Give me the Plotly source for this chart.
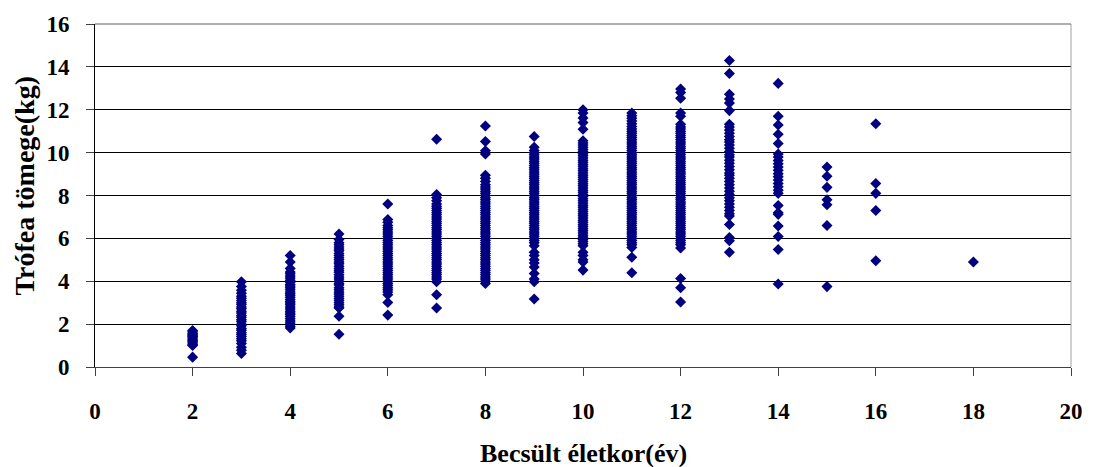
import plotly.graph_objects as go

# Estimated age (years) categories
ages = [2, 3, 4, 5, 6, 7, 8, 9, 10, 11, 12, 13, 14, 15, 16, 18]

# Trophy weights (kg) read per age column
w_age2 = [0.46, 1.0, 1.05, 1.12, 1.18, 1.25, 1.3, 1.36, 1.42, 1.47, 1.53, 1.58, 1.64, 1.7]
w_age3 = [3.98, 3.75, 3.58, 3.44, 3.3, 3.21, 3.1, 3.0, 2.92, 2.8, 2.72, 2.6, 2.52, 2.4, 2.32,
          2.2, 2.12, 2.0, 1.92, 1.8, 1.72, 1.6, 1.52, 1.42, 1.32, 1.22, 1.1, 0.92, 0.78, 0.63]
w_age4 = [5.2, 4.9, 4.6, 4.43, 4.35, 4.25, 4.15, 4.05, 3.95, 3.85, 3.78, 3.7, 3.6, 3.5, 3.42,
          3.35, 3.25, 3.15, 3.05, 2.98, 2.9, 2.8, 2.7, 2.6, 2.52, 2.45, 2.35, 2.25, 2.15, 2.05,
          1.98, 1.9, 1.82]
w_age5 = [6.2, 5.95, 5.8, 5.7, 5.6, 5.5, 5.42, 5.3, 5.2, 5.1, 5.0, 4.9, 4.82, 4.7, 4.6, 4.5,
          4.42, 4.3, 4.2, 4.1, 4.0, 3.9, 3.82, 3.7, 3.6, 3.5, 3.4, 3.3, 3.2, 3.1, 3.0, 2.9, 2.8,
          2.75, 2.37, 1.53]
w_age6 = [7.6, 6.88, 6.75, 6.6, 6.5, 6.4, 6.3, 6.2, 6.1, 6.0, 5.9, 5.8, 5.7, 5.6, 5.5, 5.4,
          5.3, 5.2, 5.1, 5.0, 4.9, 4.8, 4.7, 4.6, 4.5, 4.4, 4.3, 4.2, 4.1, 4.0, 3.9, 3.8, 3.7,
          3.6, 3.5, 3.37, 3.01, 2.42]
w_age7 = [10.62, 8.05, 7.9, 7.75, 7.6, 7.5, 7.4, 7.3, 7.2, 7.1, 7.0, 6.9, 6.8, 6.7, 6.6, 6.5,
          6.4, 6.3, 6.2, 6.1, 6.0, 5.9, 5.8, 5.7, 5.6, 5.5, 5.4, 5.3, 5.2, 5.1, 5.0, 4.9, 4.8,
          4.7, 4.6, 4.5, 4.4, 4.3, 4.2, 4.1, 3.98, 3.37, 2.75]
w_age8 = [11.24, 10.52, 10.09, 9.94, 8.94, 8.8, 8.65, 8.5, 8.4, 8.3, 8.2, 8.1, 8.0, 7.9, 7.8,
          7.7, 7.6, 7.5, 7.4, 7.3, 7.2, 7.1, 7.0, 6.9, 6.8, 6.7, 6.6, 6.5, 6.4, 6.3, 6.2, 6.1,
          6.0, 5.9, 5.8, 5.7, 5.6, 5.5, 5.4, 5.3, 5.2, 5.1, 5.0, 4.9, 4.8, 4.7, 4.6, 4.5, 4.4,
          4.3, 4.2, 4.1, 4.0, 3.9]
w_age9 = [10.75, 10.25, 10.1, 10.0, 9.9, 9.8, 9.7, 9.6, 9.5, 9.4, 9.3, 9.2, 9.1, 9.0, 8.9,
          8.8, 8.7, 8.6, 8.5, 8.4, 8.3, 8.2, 8.1, 8.0, 7.9, 7.8, 7.7, 7.6, 7.5, 7.4, 7.3, 7.2,
          7.1, 7.0, 6.9, 6.8, 6.7, 6.6, 6.5, 6.4, 6.3, 6.2, 6.1, 6.0, 5.9, 5.8, 5.66, 5.35, 5.2,
          5.0, 4.85, 4.66, 4.36, 4.1, 3.98, 3.17]
w_age10 = [12.0, 11.85, 11.62, 11.4, 11.09, 10.55, 10.45, 10.35, 10.25, 10.15, 10.05, 9.95,
           9.85, 9.75, 9.65, 9.55, 9.45, 9.35, 9.25, 9.15, 9.05, 8.95, 8.85, 8.75, 8.65, 8.55,
           8.45, 8.35, 8.25, 8.15, 8.05, 7.95, 7.85, 7.75, 7.65, 7.55, 7.45, 7.35, 7.25, 7.15,
           7.05, 6.95, 6.85, 6.75, 6.65, 6.55, 6.45, 6.35, 6.25, 6.15, 6.05, 5.95, 5.85, 5.75,
           5.66, 5.35, 5.2, 5.0, 4.9, 4.52]
w_age11 = [11.85, 11.72, 11.6, 11.48, 11.35, 11.22, 11.1, 11.0, 10.9, 10.8, 10.7, 10.6, 10.5,
           10.4, 10.3, 10.2, 10.1, 10.0, 9.9, 9.8, 9.7, 9.6, 9.5, 9.4, 9.3, 9.2, 9.1, 9.0, 8.9,
           8.8, 8.7, 8.6, 8.5, 8.4, 8.3, 8.2, 8.1, 8.0, 7.9, 7.8, 7.7, 7.6, 7.5, 7.4, 7.3, 7.2,
           7.1, 7.0, 6.9, 6.8, 6.7, 6.6, 6.5, 6.4, 6.3, 6.2, 6.1, 6.0, 5.9, 5.8, 5.7, 5.58,
           5.12, 4.4]
w_age12 = [12.97, 12.8, 12.54, 11.85, 11.7, 11.32, 11.2, 11.1, 11.0, 10.9, 10.8, 10.7, 10.6,
           10.5, 10.4, 10.3, 10.2, 10.1, 10.0, 9.9, 9.8, 9.7, 9.6, 9.5, 9.4, 9.3, 9.2, 9.1, 9.0,
           8.9, 8.8, 8.7, 8.6, 8.5, 8.4, 8.3, 8.2, 8.1, 8.0, 7.9, 7.8, 7.7, 7.6, 7.5, 7.4, 7.3,
           7.2, 7.1, 7.0, 6.9, 6.8, 6.7, 6.6, 6.5, 6.4, 6.3, 6.2, 6.1, 6.0, 5.9, 5.8, 5.7, 5.55,
           4.13, 3.7, 3.03]
w_age13 = [14.3, 13.69, 12.72, 12.5, 12.31, 11.96, 11.32, 11.2, 11.05, 10.9, 10.75, 10.6, 10.5,
           10.35, 10.2, 10.05, 9.9, 9.8, 9.65, 9.5, 9.35, 9.2, 9.05, 8.95, 8.8, 8.65, 8.5, 8.35,
           8.2, 8.05, 7.9, 7.75, 7.6, 7.45, 7.3, 7.15, 7.04, 6.65, 6.04, 5.89, 5.35]
w_age14 = [13.23, 11.7, 11.29, 10.86, 10.43, 9.94, 9.8, 9.63, 9.48, 9.33, 9.18, 9.02, 8.88,
           8.72, 8.56, 8.41, 8.25, 8.1, 7.53, 7.19, 7.12, 6.58, 6.09, 5.48, 3.87]
w_age15 = [9.33, 8.9, 8.38, 7.8, 7.57, 6.6, 3.75]
w_age16 = [11.35, 8.56, 8.1, 7.3, 4.96]
w_age18 = [4.9]

weights_by_age = [w_age2, w_age3, w_age4, w_age5, w_age6, w_age7, w_age8, w_age9, w_age10,
                  w_age11, w_age12, w_age13, w_age14, w_age15, w_age16, w_age18]

xs, ys = [], []
for a, ws in zip(ages, weights_by_age):
    xs.extend([a] * len(ws))
    ys.extend(ws)

font_family = "Liberation Serif, Times New Roman, serif"
navy = "#000080"

fig = go.Figure()
fig.add_trace(go.Scatter(
    x=xs, y=ys, mode="markers",
    marker=dict(symbol="diamond", size=8.5, color=navy, line=dict(width=0)),
    showlegend=False,
))

fig.update_layout(
    width=1095, height=467,
    margin=dict(l=95, r=21, t=18, b=100),
    paper_bgcolor="white", plot_bgcolor="white",
    font=dict(family=font_family, size=23, color="black", weight="bold"),
    xaxis=dict(
        range=[0, 20], dtick=2, tick0=0,
        showgrid=False, zeroline=False,
        showline=True, linecolor="#404040", linewidth=1,
        ticks="outside", ticklen=8, tickcolor="#404040", tickwidth=1,
        ticklabelstandoff=15, ticklabeloverflow="allow",
        tickfont=dict(family=font_family, size=23, color="black", weight="bold"),
    ),
    yaxis=dict(
        range=[0, 16], dtick=2, tick0=0,
        showgrid=True, gridcolor="#000000", gridwidth=1,
        zeroline=False,
        showline=True, linecolor="#000000", linewidth=1,
        ticks="outside", ticklen=8, tickcolor="#404040", tickwidth=1,
        ticklabelstandoff=12, ticklabeloverflow="allow",
        tickfont=dict(family=font_family, size=23, color="black", weight="bold"),
    ),
    shapes=[
        dict(type="line", xref="paper", yref="paper", x0=1, x1=1, y0=0, y1=1,
             line=dict(color="#a0a0a0", width=1)),
        dict(type="line", xref="paper", yref="paper", x0=0, x1=1, y0=1, y1=1,
             line=dict(color="#606060", width=1)),
    ],
    annotations=[
        dict(text="Becsült életkor(év)", xref="paper", yref="paper", x=0.5, y=0,
             xanchor="center", yanchor="middle", yshift=-86, showarrow=False,
             font=dict(family=font_family, size=26, color="black", weight="bold")),
        dict(text="Trófea tömege(kg)", xref="paper", yref="paper", x=0, y=0.5,
             xanchor="center", yanchor="middle", xshift=-71, yshift=10, textangle=-90,
             showarrow=False,
             font=dict(family=font_family, size=28, color="black", weight="bold")),
    ],
)

fig.write_html("out.html",
               config={"displayModeBar": False},
               post_script="document.body.style.margin='0';document.body.style.overflow='hidden';")
